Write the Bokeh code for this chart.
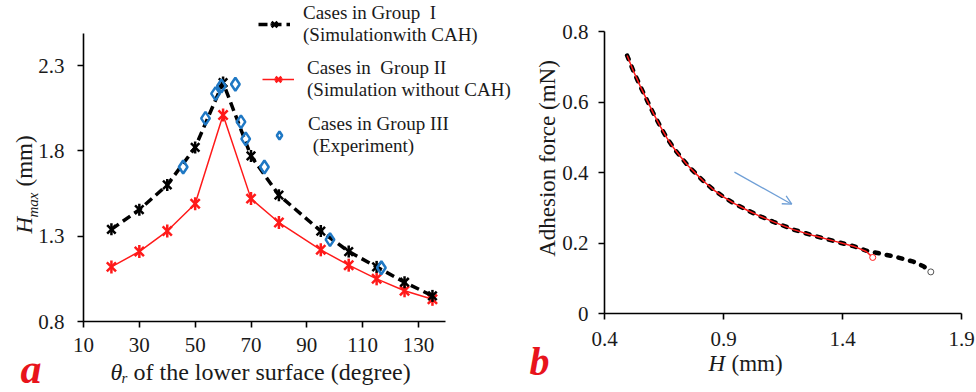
import numpy as np
from bokeh.plotting import figure
from bokeh.layouts import row
from bokeh.models import (Label, Legend, LegendItem, Arrow, OpenHead,
                          FixedTicker, Range1d)
from bokeh.embed import file_html
from bokeh.resources import INLINE

# ---------------- Panel a data ----------------
theta_I = [20, 30, 40, 50, 60, 70, 80, 95, 105, 115, 125, 135]
hmax_I = [1.34, 1.455, 1.60, 1.82, 2.20, 1.77, 1.54, 1.33, 1.21, 1.12, 1.03, 0.95]

theta_II = [20, 30, 40, 50, 60, 70, 80, 95, 105, 115, 125, 135]
hmax_II = [1.12, 1.21, 1.33, 1.49, 2.01, 1.52, 1.38, 1.22, 1.13, 1.05, 0.98, 0.93]

theta_III = [45.7, 53.7, 57.3, 59.4, 64.4, 66.4, 68.1, 74.8, 98.3, 116.7]
hmax_III = [1.705, 1.99, 2.135, 2.18, 2.19, 1.97, 1.87, 1.705, 1.28, 1.115]

xticks_a = [10, 30, 50, 70, 90, 110, 130]
yticks_a = [0.8, 1.3, 1.8, 2.3]
xbounds_a = (10, 139.6)
ybounds_a = (0.8, 2.49)

legend_I = "Cases in Group  I\n(Simulationwith CAH)"
legend_II = "Cases in  Group II\n(Simulation without CAH)"
legend_III = "Cases in Group III\n (Experiment)"

# ---------------- Panel b data ----------------
h_I = [0.495, 0.52, 0.55, 0.58, 0.606, 0.635, 0.662, 0.69, 0.718, 0.75, 0.788,
       0.82, 0.858, 0.9, 0.942, 1.0, 1.05, 1.11, 1.194, 1.278, 1.362, 1.446,
       1.502, 1.558, 1.628, 1.698, 1.74, 1.771]
f_I = [0.732, 0.69, 0.645, 0.603, 0.567, 0.53, 0.498, 0.47, 0.446, 0.42, 0.394,
       0.373, 0.351, 0.331, 0.313, 0.293, 0.277, 0.26, 0.238, 0.221, 0.206, 0.191,
       0.178, 0.170, 0.160, 0.147, 0.134, 0.118]

h_II = [0.495, 0.52, 0.55, 0.58, 0.606, 0.635, 0.662, 0.69, 0.718, 0.75, 0.788,
        0.82, 0.858, 0.9, 0.942, 1.0, 1.05, 1.11, 1.194, 1.278, 1.362, 1.446,
        1.50, 1.527]
f_II = [0.732, 0.69, 0.645, 0.603, 0.567, 0.53, 0.498, 0.47, 0.446, 0.42, 0.394,
        0.373, 0.351, 0.331, 0.313, 0.293, 0.277, 0.26, 0.238, 0.221, 0.206, 0.191,
        0.176, 0.159]

arrow_h = [0.946, 1.187]
arrow_f = [0.401, 0.31]

xticks_b = [0.4, 0.9, 1.4, 1.9]
yticks_b = [0, 0.2, 0.4, 0.6, 0.8]
xbounds_b = (0.4, 1.9)
ybounds_b = (0, 0.8)

SERIF = "Liberation Serif"
TXT = "#1a1a1a"
RED = "#ff1a1a"
BLUE = "#1f78c4"
LETTER = "#e8141c"

H_PX = 392


def rng(v0, p0, v1, p1, pmin, pmax):
    """Range whose ends sit at canvas pixels pmin/pmax, given two anchors."""
    k = (v1 - v0) / (p1 - p0)
    return Range1d(v0 + (pmin - p0) * k, v0 + (pmax - p0) * k)


def style(p, xt, yt, xb, yb, xstand, ystand):
    p.grid.visible = False
    p.outline_line_color = None
    p.xaxis.ticker = FixedTicker(ticks=xt)
    p.yaxis.ticker = FixedTicker(ticks=yt)
    p.xaxis.bounds = xb
    p.yaxis.bounds = yb
    p.xaxis.fixed_location = yb[0]
    p.yaxis.fixed_location = xb[0]
    for ax in (p.xaxis, p.yaxis):
        ax.axis_line_width = 1.6
        ax.axis_line_color = "black"
        ax.major_tick_line_width = 1.6
        ax.major_tick_line_color = "black"
        ax.major_tick_out = 6
        ax.major_tick_in = 0
        ax.minor_tick_out = 0
        ax.minor_tick_in = 0
        ax.major_label_text_font = SERIF
        ax.major_label_text_font_size = "21px"
        ax.major_label_text_color = TXT
    p.xaxis.major_label_standoff = xstand
    p.yaxis.major_label_standoff = ystand


def lab(text, x, y, size, style="normal", angle=0.0, color=TXT, align="left"):
    # x, y: canvas pixels measured from the left / bottom of the figure
    return Label(x=x, y=y, x_units="screen", y_units="screen", text=text,
                 angle=angle, text_font=SERIF, text_font_size=size,
                 text_font_style=style, text_color=color, text_align=align,
                 text_baseline="alphabetic")


# ================= Panel a =================
WA = 528
pa = figure(width=WA, height=H_PX,
            x_range=rng(10, 83, 130, 418, 0, WA),
            y_range=rng(0.8, 321, 2.3, 65, H_PX, 0),
            output_backend="svg", toolbar_location=None, min_border=0)
style(pa, xticks_a, yticks_a, xbounds_a, ybounds_a, 10, 13)

l2 = pa.line(theta_II, hmax_II, line_color=RED, line_width=1.5)
s2a = pa.scatter(theta_II, hmax_II, marker="x", size=13, line_color=RED, line_width=2.5)
s2b = pa.scatter(theta_II, hmax_II, marker="dash", angle=np.pi / 2, size=13,
                 line_color=RED, line_width=2.5)

l1 = pa.line(theta_I, hmax_I, line_color="black", line_width=3.5, line_dash="9 5")
s1a = pa.scatter(theta_I, hmax_I, marker="x", size=12, line_color="black", line_width=2.5)
s1b = pa.scatter(theta_I, hmax_I, marker="dash", angle=np.pi / 2, size=12,
                 line_color="black", line_width=2.5)

s3 = pa.scatter(theta_III, hmax_III, marker="diamond", size=13, fill_color=None,
                line_color=BLUE, line_width=2.5)

leg_common = dict(border_line_color=None, background_fill_alpha=0, padding=0,
                  margin=0, spacing=0, glyph_width=32, glyph_height=20,
                  label_standoff=13, label_text_font=SERIF,
                  label_text_font_size="19px", label_text_color=TXT,
                  label_text_line_height=1.1)
for text, rends, loc in ((legend_I, [l1, s1a, s1b], (258, 346)),
                         (legend_II, [l2, s2a, s2b], (262, 291)),
                         (legend_III, [s3], (263, 235))):
    lg = Legend(items=[LegendItem(label=text, renderers=rends)], location=loc,
                **leg_common)
    pa.add_layout(lg)

# axis titles of panel a
pa.add_layout(lab("θ", 110, 21, "24px", "italic"))
pa.add_layout(lab("r", 121, 15, "15px", "italic"))
pa.add_layout(lab("of the lower surface (degree)", 133, 21, "24px"))
pa.add_layout(lab("H", 24, 159, "23px", "italic", np.pi / 2))
pa.add_layout(lab("max", 32, 175, "15px", "italic", np.pi / 2))
pa.add_layout(lab("(mm)", 24, 206, "23px", "normal", np.pi / 2))
pa.add_layout(lab("a", 20, 24, "42px", "bold italic", color=LETTER))

# ================= Panel b =================
WB = 448
pb = figure(width=WB, height=H_PX,
            x_range=rng(0.4, 76, 1.9, 433, 0, WB),
            y_range=rng(0.0, 313, 0.8, 31, H_PX, 0),
            output_backend="svg", toolbar_location=None, min_border=0)
style(pb, xticks_b, yticks_b, xbounds_b, ybounds_b, 12, 10)
pb.yaxis.major_label_overrides = {0: "0"}

pb.line(h_I, f_I, line_color="black", line_width=4.5, line_dash="4 8",
        line_cap="round")
pb.line(h_II, f_II, line_color=RED, line_width=1.5)
pb.scatter(h_I[-1:], f_I[-1:], marker="circle", size=6, fill_color="white",
           line_color="#555555", line_width=1)
pb.scatter(h_II[-1:], f_II[-1:], marker="circle", size=6, fill_color="white",
           line_color=RED, line_width=1)

pb.add_layout(Arrow(x_start=arrow_h[0], y_start=arrow_f[0], x_end=arrow_h[1],
                    y_end=arrow_f[1], line_color="#6f9fd6", line_width=1.3,
                    end=OpenHead(size=9, line_color="#6f9fd6", line_width=1.3)))

pb.add_layout(lab("H", 180, 29, "23px", "italic"))
pb.add_layout(lab("(mm)", 203, 29, "23px"))
pb.add_layout(lab("Adhesion force (mN)", 19, 234, "23px", "normal", np.pi / 2,
                  align="center"))
pb.add_layout(lab("b", 1, 31, "40px", "bold italic", color=LETTER))

layout = row(pa, pb)
open("out.html", "w").write(file_html(layout, INLINE))
